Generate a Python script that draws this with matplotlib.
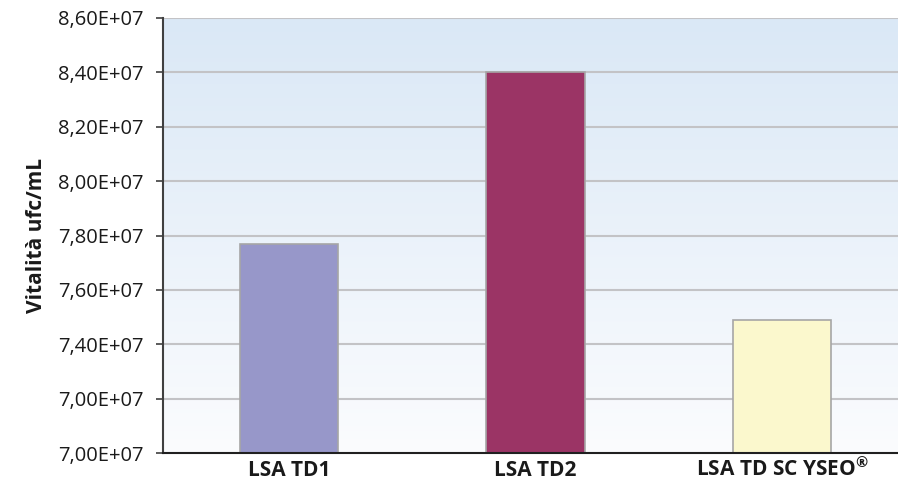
import numpy as np
import matplotlib.pyplot as plt
from matplotlib.colors import LinearSegmentedColormap

# dati
campioni = ["LSA TD1", "LSA TD2", "LSA TD SC YSEO$^{®}$"]
vitalita = [7.77e7, 8.40e7, 7.49e7]
colori = ["#9797c9", "#9b3465", "#fbf8cd"]

y_ticks = [7.0e7, 7.2e7, 7.4e7, 7.6e7, 7.8e7, 8.0e7, 8.2e7, 8.4e7, 8.6e7]
y_tick_labels = ["7,00E+07", "7,00E+07", "7,40E+07", "7,60E+07", "7,80E+07",
                 "8,00E+07", "8,20E+07", "8,40E+07", "8,60E+07"]

plt.rcParams["font.family"] = ["Open Sans", "DejaVu Sans"]
plt.rcParams["mathtext.fontset"] = "custom"
plt.rcParams["mathtext.rm"] = "Open Sans:bold"
plt.rcParams["mathtext.it"] = "Open Sans:bold"
plt.rcParams["mathtext.bf"] = "Open Sans:bold"

fig = plt.figure(figsize=(8.98, 4.93), dpi=100)
ax = fig.add_axes([163 / 898, 40 / 493, 1 - 163 / 898, 435 / 493])

x = np.arange(len(campioni))
ax.set_xlim(-0.511, 2.47)
ax.set_ylim(7.0e7, 8.6e7)

# sfondo sfumato azzurro -> bianco
sfondo = LinearSegmentedColormap.from_list("sfondo", ["#fbfcfe", "#dae8f6"])
grad = np.linspace(0, 1, 256).reshape(-1, 1)
ax.imshow(grad, cmap=sfondo, aspect="auto", origin="lower",
          extent=[-0.511, 2.47, 7.0e7, 8.6e7], zorder=0)

for yt in y_ticks[1:]:
    ax.axhline(yt, color="#c3c3c6", lw=1.5, zorder=1)

ax.bar(x, vitalita, width=0.40, bottom=0, color=colori,
       edgecolor="#a6a6a6", linewidth=1.2, zorder=3)

ax.set_yticks(y_ticks)
ax.set_yticklabels(y_tick_labels, fontsize=14.5, color="#1a1a1a")
ax.set_xticks(x)
ax.set_xticklabels(campioni, fontsize=15, fontweight="bold", color="#1a1a1a")
ax.tick_params(axis="y", length=5, width=1.2, color="#404040", pad=9)
ax.tick_params(axis="x", length=0, pad=16.5)
# etichette allineate sulla linea di base
for lbl in ax.get_xticklabels():
    lbl.set_verticalalignment("baseline")

ax.set_ylabel("Vitalità ufc/mL", fontsize=15, fontweight="bold",
              color="#1a1a1a", labelpad=8)

for s in ["top", "right"]:
    ax.spines[s].set_visible(False)
ax.spines["left"].set_color("#404040")
ax.spines["left"].set_linewidth(1.5)
ax.spines["bottom"].set_color("#202020")
ax.spines["bottom"].set_linewidth(1.5)
ax.spines["left"].set_zorder(4)
ax.spines["bottom"].set_zorder(4)

fig.savefig("out.png", dpi=100)
